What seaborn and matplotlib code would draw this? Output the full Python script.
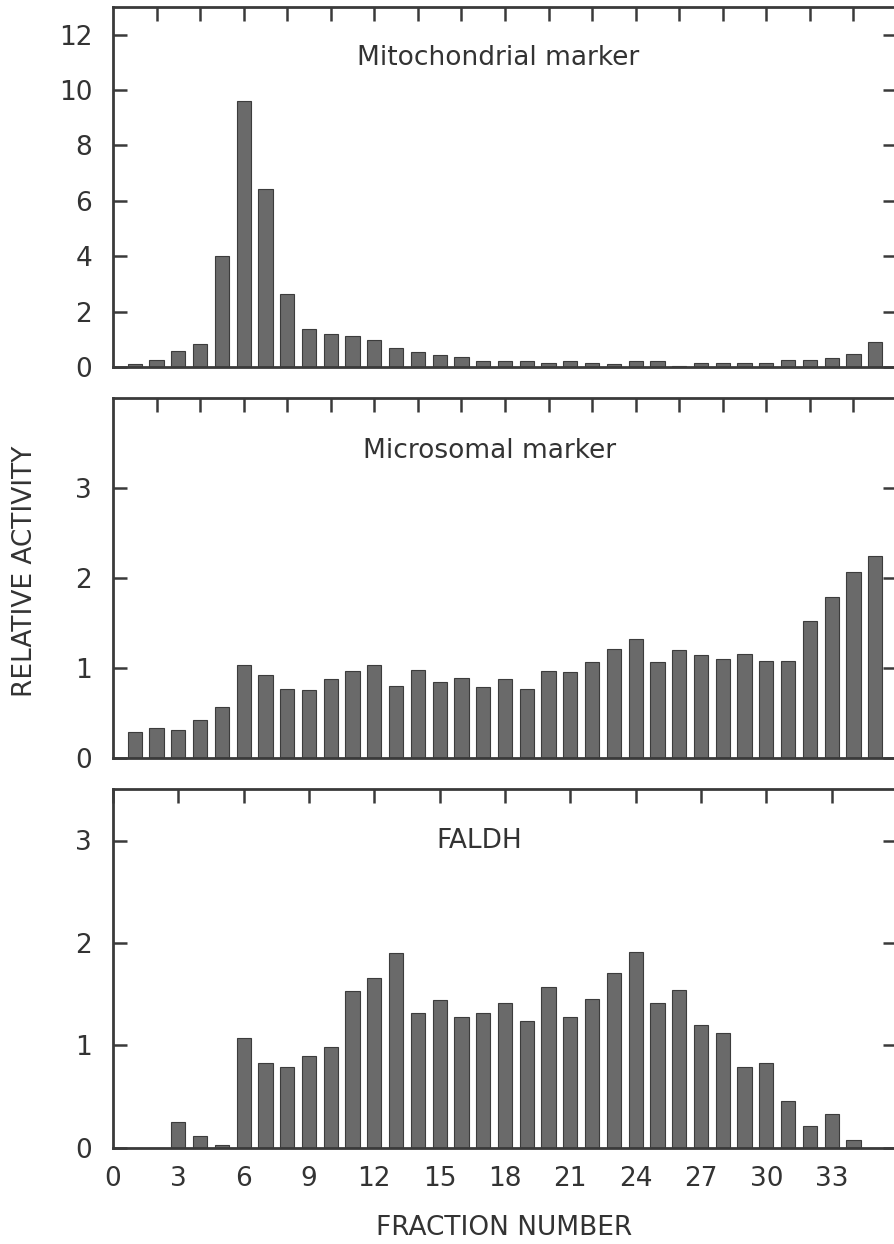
import numpy as np
import pandas as pd
import matplotlib
matplotlib.use("Agg")
import matplotlib.pyplot as plt
import seaborn as sns

sns.set_theme(style="white")
plt.rcParams['font.family'] = ['DejaVu Sans']

fractions = list(range(1, 36))

mito = [0.10, 0.25, 0.58, 0.83, 4.00, 9.62, 6.44, 2.62, 1.36, 1.18,
        1.12, 0.97, 0.67, 0.55, 0.43, 0.35, 0.23, 0.23, 0.22, 0.13,
        0.22, 0.13, 0.12, 0.22, 0.22, 0.05, 0.15, 0.15, 0.15, 0.15,
        0.25, 0.25, 0.33, 0.46, 0.89]

micro = [0.29, 0.33, 0.31, 0.42, 0.56, 1.03, 0.92, 0.76, 0.75, 0.87,
         0.96, 1.03, 0.80, 0.97, 0.84, 0.89, 0.79, 0.87, 0.76, 0.96,
         0.95, 1.06, 1.21, 1.32, 1.06, 1.20, 1.14, 1.10, 1.15, 1.07,
         1.07, 1.52, 1.79, 2.07, 2.24]

faldh = [0.00, 0.00, 0.25, 0.11, 0.03, 1.07, 0.83, 0.79, 0.90, 0.98,
         1.53, 1.66, 1.90, 1.32, 1.44, 1.28, 1.32, 1.41, 1.24, 1.57,
         1.28, 1.45, 1.71, 1.91, 1.41, 1.54, 1.20, 1.12, 0.79, 0.83,
         0.46, 0.21, 0.33, 0.08, 0.00]

titles = ["Mitochondrial marker", "Microsomal marker", "FALDH"]
ylims = [13, 4, 3.5]
yticks = [[0, 2, 4, 6, 8, 10, 12], [0, 1, 2, 3], [0, 1, 2, 3]]
bottom_xticks = [0, 3, 6, 9, 12, 15, 18, 21, 24, 27, 30, 33]
top_xticks_upper = list(range(2, 35, 2))
title_pos = [(17.7, 11.15), (17.3, 3.41), (16.8, 3.0)]

ink = "#333333"
bar_color = "#6a6a6a"

W, H = 894, 1244
fig = plt.figure(figsize=(W / 100, H / 100), dpi=100)

# panel boxes in pixels: (top, bottom)
boxes = [(7, 367), (398, 757.7), (789.3, 1147.7)]
left_px, right_px = 113, 897

series = [mito, micro, faldh]
for i, (vals, (t, b)) in enumerate(zip(series, boxes)):
    ax = fig.add_axes([left_px / W, 1 - b / H, (right_px - left_px) / W, (b - t) / H])
    df = pd.DataFrame({"fraction": fractions, "activity": vals})
    sns.barplot(data=df, x="fraction", y="activity", native_scale=True,
                width=0.65, color=bar_color, edgecolor="#3c3c3c",
                linewidth=0.8, saturation=1, ax=ax, errorbar=None)
    ax.set_xlim(0, 36)
    ax.set_ylim(0, ylims[i])
    ax.set_xlabel("")
    ax.set_ylabel("")
    for s in ax.spines.values():
        s.set_visible(True)
        s.set_color("#3a3a3a")
        s.set_linewidth(2.0)
    ax.set_yticks(yticks[i])
    ax.set_yticklabels([str(v) for v in yticks[i]])
    ax.tick_params(axis="y", which="both", direction="in", left=True, right=True,
                   length=10, width=1.8, color="#3a3a3a", labelsize=19,
                   labelcolor=ink, pad=15)
    if i < 2:
        ax.set_xticks(top_xticks_upper)
        ax.tick_params(axis="x", direction="in", bottom=False, top=True,
                       labelbottom=False, length=10, width=1.8, color="#3a3a3a")
    else:
        ax.set_xticks(bottom_xticks)
        ax.set_xticklabels([str(v) for v in bottom_xticks])
        ax.tick_params(axis="x", direction="in", bottom=False, top=True,
                       labelbottom=True, length=10, width=1.8, color="#3a3a3a",
                       labelsize=19, labelcolor=ink, pad=13)
    ax.text(title_pos[i][0], title_pos[i][1], titles[i], ha="center", va="center",
            fontsize=19, color=ink)
    ax.set_facecolor("white")

fig.text(25 / W, 1 - 571 / H, "RELATIVE ACTIVITY", rotation=90, ha="center",
         va="center", fontsize=19, color=ink)
fig.text(504 / W, 1 - 1228 / H, "FRACTION NUMBER", ha="center", va="center",
         fontsize=19, color=ink)

fig.savefig("out.png", dpi=100, facecolor="white")
